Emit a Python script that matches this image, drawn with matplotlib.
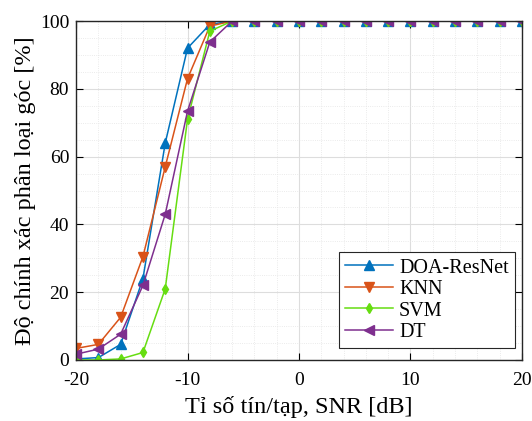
import numpy as np
import matplotlib
matplotlib.use("Agg")
import matplotlib.pyplot as plt
from matplotlib.ticker import MultipleLocator

plt.rcParams['font.family'] = ['Liberation Serif', 'DejaVu Serif']
plt.rcParams['axes.unicode_minus'] = False

# SNR values (dB)
snr = list(range(-20, 21, 2))

# classification accuracy [%]
doa_resnet = [0.3, 0.7, 4.6, 24, 64, 92, 99, 100, 100, 100, 100,
              100, 100, 100, 100, 100, 100, 100, 100, 100, 100]
knn = [3.4, 4.6, 12.6, 30.5, 57, 83, 98.5, 100, 100, 100, 100,
       100, 100, 100, 100, 100, 100, 100, 100, 100, 100]
svm = [0, 0, 0.3, 2.2, 21, 71, 97, 100, 100, 100, 100,
       100, 100, 100, 100, 100, 100, 100, 100, 100, 100]
dt = [1.7, 3.2, 7.6, 22, 43, 73.4, 93.8, 100, 100, 100, 100,
      100, 100, 100, 100, 100, 100, 100, 100, 100, 100]

fig = plt.figure(figsize=(5.32, 4.21), dpi=100)
ax = fig.add_axes([0.143, 0.145, 0.838, 0.805])

ax.plot(snr, doa_resnet, '^-', color='#0072BD', lw=1.1, ms=6.5, label='DOA-ResNet')
ax.plot(snr, knn, 'v-', color='#D95319', lw=1.1, ms=6.5, label='KNN')
ax.plot(snr, svm, 'd-', color='#66DD11', lw=1.1, ms=5.5, label='SVM')
ax.plot(snr, dt, '<-', color='#7E2F8E', lw=1.1, ms=6.5, label='DT')

ax.set_xlim(-20, 20)
ax.set_ylim(0, 100)
ax.xaxis.set_major_locator(MultipleLocator(10))
ax.xaxis.set_minor_locator(MultipleLocator(2))
ax.yaxis.set_major_locator(MultipleLocator(20))
ax.yaxis.set_minor_locator(MultipleLocator(5))

ax.grid(True, which='major', color='#dddddd', lw=0.8)
ax.grid(True, which='minor', color='#e4e4e4', lw=0.6, linestyle=':')
ax.set_axisbelow(True)

ax.tick_params(which='both', direction='in', top=True, right=True, labelsize=14)
ax.tick_params(which='minor', length=0)
ax.tick_params(which='major', length=5)
ax.tick_params(axis='x', pad=9)
ax.tick_params(axis='y', pad=5)
for s in ax.spines.values():
    s.set_color('#262626')
    s.set_linewidth(1.0)

ax.set_xlabel('Tỉ số tín/tạp, SNR [dB]', fontsize=17.5, labelpad=5)
ax.set_ylabel('Độ chính xác phân loại góc [%]', fontsize=17.5, labelpad=3)

leg = ax.legend(loc='lower right', bbox_to_anchor=(0.984, 0.035), borderaxespad=0,
                fontsize=14.5, fancybox=False, framealpha=1, edgecolor='#262626',
                handlelength=2.4, borderpad=0.3, labelspacing=0.12, handletextpad=0.3)
leg.get_frame().set_linewidth(0.8)

fig.savefig('out.png', dpi=100)
